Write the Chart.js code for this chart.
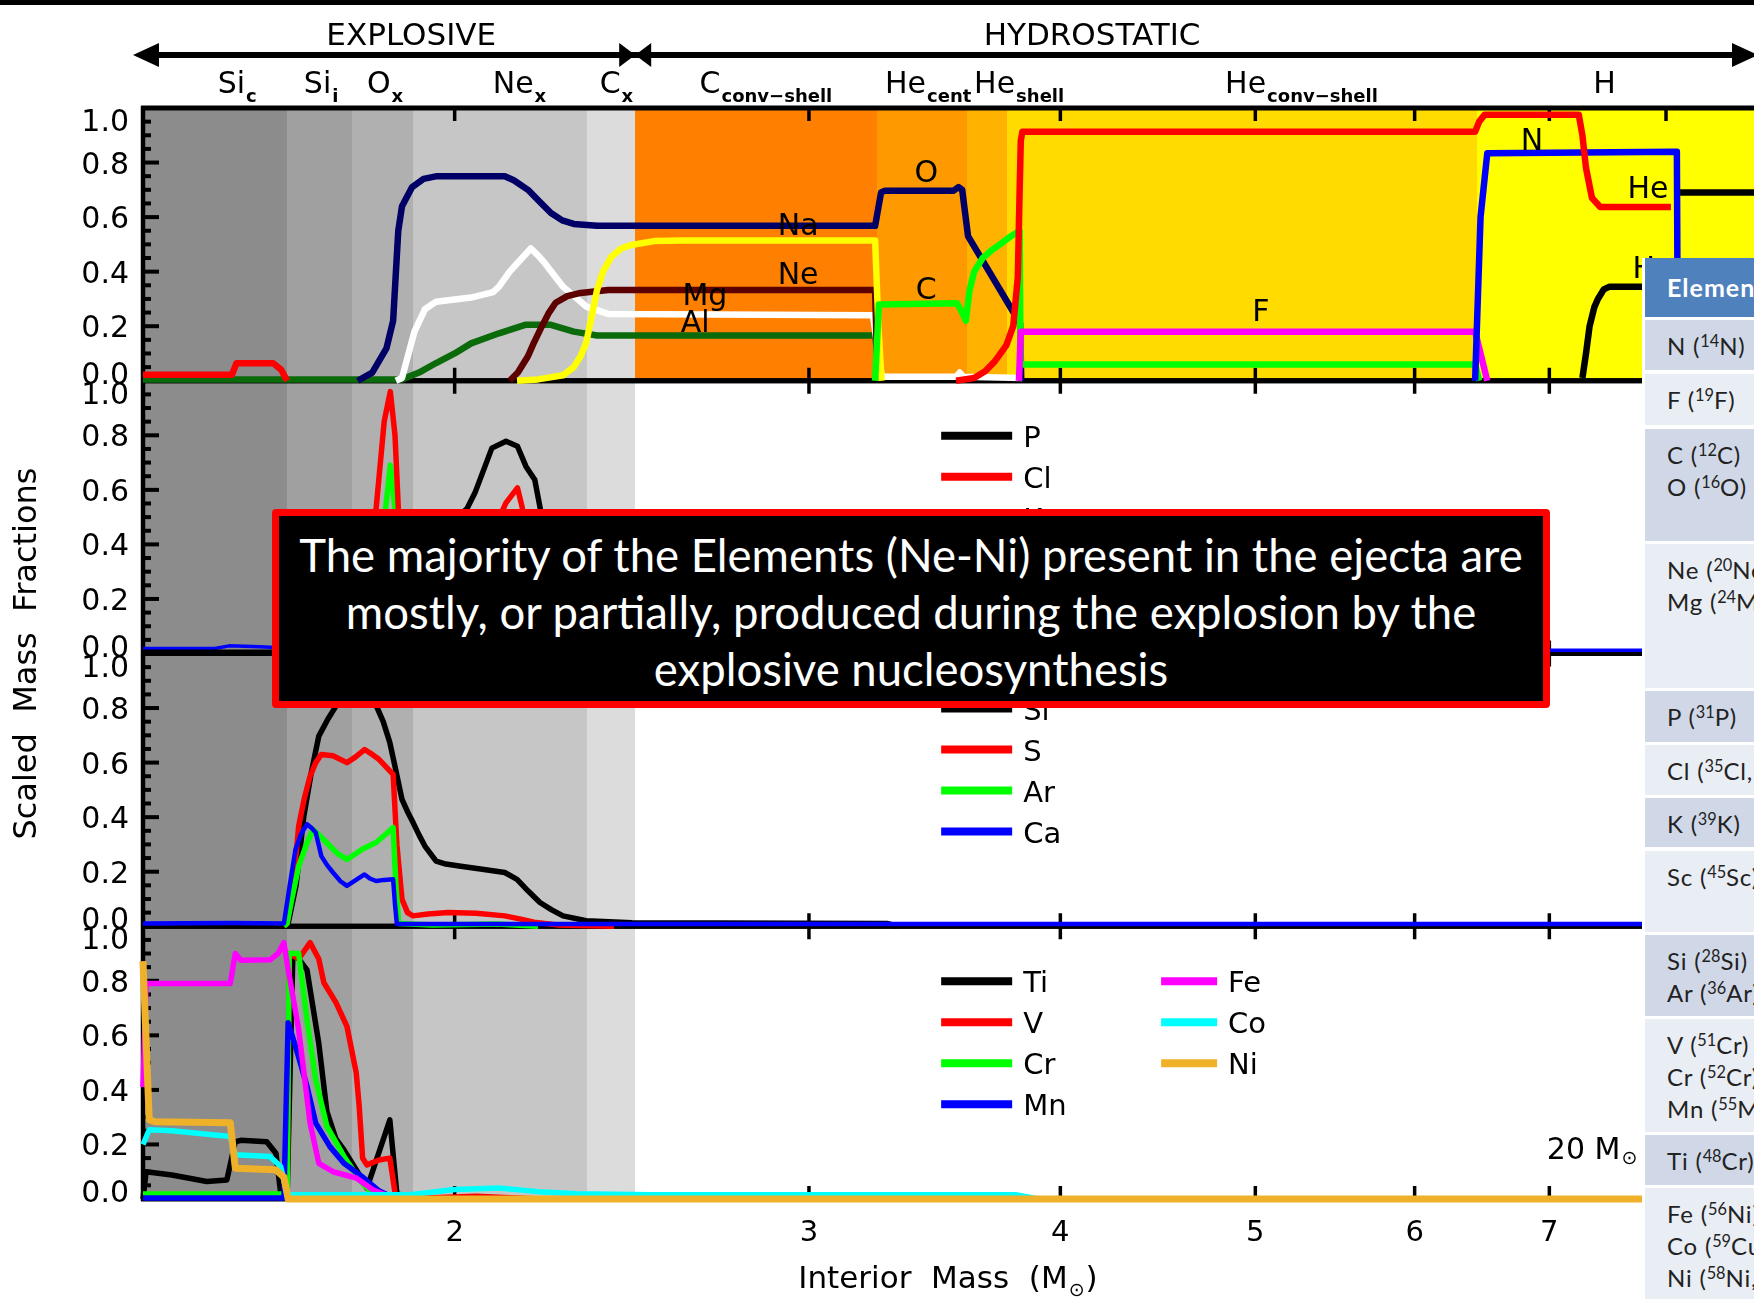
<!DOCTYPE html>
<html>
<head>
<meta charset="utf-8">
<title>Scaled mass fractions, 20 M☉ model</title>
<script src="https://cdn.jsdelivr.net/npm/chart.js@4/dist/chart.umd.min.js"></script>
<style>
  html, body { margin: 0; padding: 0; width: 1754px; height: 1299px; overflow: hidden; background: #fff; }
  #topbar { position: absolute; left: 0; top: 0; width: 1754px; height: 5px; background: #000; z-index: 3; }
  #wrap { position: absolute; left: 0; top: 0; width: 1870px; height: 1299px; }
  #note {
    position: absolute; left: 272px; top: 509px; width: 1278px; height: 199px;
    box-sizing: border-box; border: 7px solid #ff0000; border-radius: 4px;
    background: #000; color: #fff; text-align: center;
    font-family: Lato, 'Open Sans', sans-serif; font-size: 45.5px; line-height: 57px;
    padding-top: 10px; z-index: 2; white-space: nowrap;
  }
  #table { position: absolute; left: 1642px; top: 258px; width: 420px; height: 1041px; z-index: 2;
           background: #fff; font-family: Lato, 'Open Sans', sans-serif; }
  .row { position: absolute; left: 3px; width: 420px; box-sizing: border-box; padding: 10px 0 0 22px;
         font-size: 24px; line-height: 32px; color: #222; letter-spacing: 0.8px; white-space: nowrap; }
  .dark { background: #d0d8e8; }
  .light { background: #e9edf4; }
  .head { background: #4f81bd; color: #fff; font-weight: bold; font-size: 25px; padding-top: 13px; letter-spacing: 1px; }
  sup { font-size: 0.68em; vertical-align: 0.5em; line-height: 0; letter-spacing: 0; }
</style>
</head>
<body>
<div id="topbar"></div>
<div id="wrap"><canvas id="chart" width="1870" height="1299"></canvas></div>
<div id="note">The majority of the Elements (Ne-Ni) present in the ejecta are<br>mostly, or partially, produced during the explosion by the<br>explosive nucleosynthesis</div>
<div id="table">
  <div class="row head" style="top:0;height:59px;">Element</div>
  <div class="row dark" style="top:62px;height:50px;">N (<sup>14</sup>N)</div>
  <div class="row light" style="top:116px;height:51px;">F (<sup>19</sup>F)</div>
  <div class="row dark" style="top:171px;height:112px;">C (<sup>12</sup>C)<br>O (<sup>16</sup>O)</div>
  <div class="row light" style="top:286px;height:144px;">Ne (<sup>20</sup>Ne)<br>Mg (<sup>24</sup>Mg)</div>
  <div class="row dark" style="top:433px;height:51px;">P (<sup>31</sup>P)</div>
  <div class="row light" style="top:487px;height:50px;">Cl (<sup>35</sup>Cl, <sup>37</sup>Cl)</div>
  <div class="row dark" style="top:540px;height:49px;">K (<sup>39</sup>K)</div>
  <div class="row light" style="top:593px;height:81px;">Sc (<sup>45</sup>Sc)</div>
  <div class="row dark" style="top:677px;height:81px;">Si (<sup>28</sup>Si)<br>Ar (<sup>36</sup>Ar)</div>
  <div class="row light" style="top:761px;height:113px;">V (<sup>51</sup>Cr)<br>Cr (<sup>52</sup>Cr)<br>Mn (<sup>55</sup>Mn)</div>
  <div class="row dark" style="top:877px;height:50px;">Ti (<sup>48</sup>Cr)</div>
  <div class="row light" style="top:930px;height:111px;">Fe (<sup>56</sup>Ni)<br>Co (<sup>59</sup>Cu)<br>Ni (<sup>58</sup>Ni, <sup>60</sup>Ni)</div>
</div>

<script>
// ---------- axes ----------
const massMin = 1.4;
const massMax = 10;
const massTicks = [2, 3, 4, 5, 6, 7, 8, 9];
const fracTicks = [0, 0.2, 0.4, 0.6, 0.8, 1.0];

// ---------- burning zones (interior mass boundaries, M☉) ----------
const zoneEdges = [1.4, 1.651, 1.778, 1.907, 2.327, 2.459, 3.243, 3.594, 3.764, 6.446, 10];
const zoneNames = ['Si', 'Si', 'O', 'Ne', 'C', 'C', 'He', 'He', 'He', 'H'];
const zoneSubs = ['c', 'i', 'x', 'x', 'x', 'conv\u2212shell', 'cent', 'shell', 'conv\u2212shell', ''];
const zoneLabelMass = [1.525, 1.683, 1.809, 2.089, 2.361, 2.647, 3.273, 3.624, 4.83, 7.36];
const zoneColorsTop = ['#8c8c8c', '#a0a0a0', '#b0b0b0', '#c6c6c6', '#dcdcdc', '#ff7f00', '#ff9900', '#ffb300', '#ffdb00', '#ffff00'];
const zoneColorsLower = ['#8c8c8c', '#a0a0a0', '#b0b0b0', '#c6c6c6', '#dcdcdc', null, null, null, null, null];
const phaseSplitMass = 2.459;

// ---------- panel 1: light elements (mass, scaled fraction) ----------
const redInner = [[1.40, 0.022], [1.55, 0.022], [1.558, 0.064], [1.625, 0.064], [1.64, 0.04], [1.651, 0]];
const nitrogen = [[3.55, 0], [3.624, 0.01], [3.67, 0.035], [3.71, 0.07], [3.76, 0.13], [3.79, 0.2], [3.81, 0.38],
  [3.818, 0.7], [3.823, 0.88], [3.83, 0.913], [6.43, 0.913], [6.46, 0.95], [6.50, 0.975], [7.24, 0.975],
  [7.27, 0.9], [7.30, 0.78], [7.35, 0.67], [7.42, 0.637], [8.045, 0.637]];
const hydrogen = [[7.27, 0.01], [7.30, 0.1], [7.33, 0.2], [7.37, 0.27], [7.40, 0.3], [7.45, 0.335], [7.50, 0.345], [8.10, 0.345]];
const heliumEnvelope = [[8.13, 0.69], [10, 0.69]];
const heliumShell = [[6.43, 0], [6.47, 0.6], [6.52, 0.834], [8.10, 0.84], [8.11, 0]];
const fluorine = [[3.815, 0], [3.823, 0.18], [6.43, 0.18], [6.52, 0]];
const carbon = [[3.236, 0], [3.25, 0.28], [3.554, 0.284], [3.575, 0.25], [3.59, 0.22], [3.605, 0.33], [3.624, 0.40],
  [3.66, 0.45], [3.70, 0.48], [3.733, 0.50], [3.78, 0.53], [3.818, 0.55], [3.822, 0.06], [6.43, 0.06], [6.46, 0]];
const oxygenSodium = [[1.79, 0], [1.82, 0.03], [1.85, 0.12], [1.864, 0.22], [1.875, 0.55], [1.883, 0.64], [1.905, 0.71],
  [1.93, 0.74], [1.96, 0.75], [2.118, 0.75], [2.14, 0.735], [2.175, 0.70], [2.205, 0.655], [2.233, 0.615],
  [2.262, 0.588], [2.292, 0.575], [2.354, 0.568], [3.236, 0.568], [3.258, 0.69], [3.273, 0.697], [3.54, 0.697],
  [3.56, 0.71], [3.575, 0.70], [3.599, 0.53], [3.82, 0.21], [3.825, 0]];
const neon = [[2.148, 0], [2.20, 0.005], [2.264, 0.02], [2.292, 0.05], [2.31, 0.09], [2.325, 0.14], [2.34, 0.24],
  [2.354, 0.333], [2.37, 0.40], [2.393, 0.455], [2.42, 0.485], [2.448, 0.498], [2.513, 0.512], [2.6, 0.514],
  [3.236, 0.514], [3.248, 0.2], [3.26, 0]];
const magnesium = [[2.13, 0], [2.15, 0.03], [2.175, 0.09], [2.19, 0.14], [2.21, 0.2], [2.228, 0.25], [2.245, 0.286],
  [2.275, 0.31], [2.31, 0.322], [2.384, 0.333], [3.236, 0.333], [3.245, 0]];
const aluminium = [[1.87, 0], [1.883, 0.01], [1.91, 0.18], [1.933, 0.262], [1.958, 0.29], [2.038, 0.305], [2.09, 0.325],
  [2.104, 0.345], [2.13, 0.40], [2.148, 0.43], [2.182, 0.485], [2.20, 0.46], [2.218, 0.43], [2.264, 0.345],
  [2.325, 0.272], [2.384, 0.245], [3.228, 0.24], [3.245, 0.12], [3.261, 0.015], [3.55, 0.015], [3.565, 0.03],
  [3.58, 0.015], [3.83, 0.01]];
const darkGreenLine = [[1.40, 0.005], [1.883, 0.005], [1.92, 0.03], [1.958, 0.065], [2.0, 0.10], [2.038, 0.137],
  [2.104, 0.174], [2.168, 0.205], [2.233, 0.205], [2.292, 0.18], [2.354, 0.166], [3.236, 0.166], [3.255, 0]];

// ---------- panel 2: P, Cl, K, Sc ----------
const phosphorus = [[1.40, 0.005], [1.64, 0.005], [1.68, 0.12], [1.72, 0.25], [1.78, 0.3], [1.85, 0.35], [1.95, 0.42],
  [2.028, 0.53], [2.047, 0.589], [2.087, 0.753], [2.121, 0.778], [2.149, 0.76], [2.17, 0.686], [2.192, 0.637],
  [2.206, 0.53], [2.24, 0.3], [2.3, 0.1], [2.4, 0.02], [3.3, 0.01], [3.35, 0]];
const chlorine = [[1.65, 0], [1.70, 0.1], [1.78, 0.15], [1.82, 0.4], [1.828, 0.53], [1.845, 0.85], [1.858, 0.96],
  [1.868, 0.8], [1.876, 0.5], [1.90, 0.2], [2.0, 0.25], [2.06, 0.35], [2.121, 0.552], [2.149, 0.607], [2.16, 0.54],
  [2.2, 0.25], [2.3, 0.05], [2.45, 0.01], [2.6, 0]];
const potassium = [[1.65, 0], [1.72, 0.08], [1.80, 0.1], [1.83, 0.2], [1.848, 0.53], [1.858, 0.69], [1.868, 0.53],
  [1.88, 0.2], [1.95, 0.1], [2.1, 0.12], [2.2, 0.08], [2.35, 0.01], [2.5, 0]];
const scandium = [[1.40, 0.018], [1.52, 0.018], [1.545, 0.028], [1.60, 0.025], [1.65, 0.02], [1.70, 0.1], [1.8, 0.15],
  [1.9, 0.1], [2.1, 0.1], [2.3, 0.03], [2.5, 0.012], [10, 0.012]];

// ---------- panel 3: Si, S, Ar, Ca ----------
const silicon = [[1.40, 0.005], [1.645, 0.005], [1.653, 0.01], [1.668, 0.15], [1.683, 0.404], [1.697, 0.56],
  [1.712, 0.697], [1.73, 0.76], [1.746, 0.807], [1.77, 0.92], [1.79, 0.97], [1.81, 0.92], [1.828, 0.81],
  [1.843, 0.75], [1.857, 0.673], [1.87, 0.57], [1.883, 0.465], [1.895, 0.42], [1.907, 0.38], [1.92, 0.335],
  [1.933, 0.294], [1.958, 0.239], [1.98, 0.228], [2.01, 0.221], [2.06, 0.21], [2.118, 0.197], [2.148, 0.172],
  [2.175, 0.13], [2.205, 0.087], [2.235, 0.06], [2.264, 0.038], [2.325, 0.02], [2.45, 0.013], [3.28, 0.01], [3.32, 0]];
const sulfur = [[1.645, 0], [1.651, 0.01], [1.665, 0.2], [1.673, 0.367], [1.684, 0.47], [1.695, 0.55], [1.706, 0.60],
  [1.717, 0.63], [1.74, 0.625], [1.768, 0.60], [1.785, 0.62], [1.804, 0.648], [1.82, 0.63], [1.834, 0.612],
  [1.864, 0.557], [1.872, 0.3], [1.883, 0.099], [1.895, 0.05], [1.907, 0.038], [1.94, 0.045], [1.985, 0.05],
  [2.05, 0.048], [2.118, 0.038], [2.16, 0.025], [2.19, 0.015], [2.25, 0.005], [2.4, 0]];
const argon = [[1.645, 0], [1.651, 0.01], [1.66, 0.1], [1.673, 0.22], [1.688, 0.3], [1.701, 0.355], [1.715, 0.33],
  [1.734, 0.294], [1.75, 0.265], [1.768, 0.245], [1.785, 0.265], [1.799, 0.282], [1.828, 0.307], [1.85, 0.34],
  [1.864, 0.362], [1.87, 0.15], [1.876, 0.01], [1.95, 0.005], [2.1, 0.008], [2.2, 0]];
const calcium = [[1.40, 0.01], [1.55, 0.012], [1.645, 0.01], [1.656, 0.15], [1.667, 0.282], [1.678, 0.34],
  [1.689, 0.374], [1.698, 0.36], [1.706, 0.344], [1.717, 0.257], [1.728, 0.225], [1.74, 0.197], [1.755, 0.165],
  [1.768, 0.148], [1.785, 0.168], [1.804, 0.19], [1.815, 0.175], [1.828, 0.166], [1.845, 0.17], [1.864, 0.172],
  [1.868, 0.08], [1.872, 0.008], [10, 0.008]];

// ---------- panel 4: Ti, V, Cr, Mn, Fe, Co, Ni ----------
const titanium = [[1.40, 0.0], [1.405, 0.10], [1.447, 0.088], [1.506, 0.064], [1.541, 0.07], [1.556, 0.21],
  [1.566, 0.215], [1.613, 0.21], [1.63, 0.168], [1.639, 0.02], [1.651, 0.005], [1.662, 0.90], [1.673, 0.88],
  [1.689, 0.84], [1.712, 0.57], [1.728, 0.32], [1.746, 0.22], [1.762, 0.18], [1.793, 0.09], [1.809, 0.04],
  [1.828, 0.14], [1.857, 0.29], [1.872, 0.02], [1.9, 0.005]];
const vanadium = [[1.651, 0], [1.655, 0.90], [1.673, 0.88], [1.695, 0.94], [1.712, 0.88], [1.722, 0.793],
  [1.746, 0.72], [1.768, 0.633], [1.787, 0.462], [1.793, 0.34], [1.80, 0.15], [1.809, 0.125], [1.834, 0.143],
  [1.857, 0.15], [1.87, 0.0], [1.95, 0.005], [2.05, 0.01], [2.2, 0]];
const chromium = [[1.40, 0.018], [1.645, 0.018], [1.651, 0.02], [1.655, 0.90], [1.673, 0.90], [1.689, 0.658],
  [1.706, 0.437], [1.728, 0.266], [1.762, 0.156], [1.799, 0.058], [1.822, 0.02], [1.85, 0]];
const manganese = [[1.40, 0.004], [1.645, 0.004], [1.653, 0.646], [1.667, 0.56], [1.689, 0.413], [1.706, 0.278],
  [1.734, 0.192], [1.762, 0.131], [1.799, 0.082], [1.834, 0.03], [1.87, 0]];
const iron = [[1.40, 0.41], [1.405, 0.79], [1.547, 0.79], [1.556, 0.90], [1.566, 0.875], [1.619, 0.877],
  [1.634, 0.90], [1.645, 0.94], [1.653, 0.842], [1.673, 0.621], [1.695, 0.278], [1.712, 0.131], [1.74, 0.10],
  [1.787, 0.077], [1.822, 0.033], [1.857, 0.01], [1.9, 0]];
const cobalt = [[1.40, 0.20], [1.41, 0.254], [1.447, 0.25], [1.547, 0.229], [1.556, 0.162], [1.619, 0.156],
  [1.639, 0.119], [1.651, 0.016], [1.9, 0.016], [1.933, 0.022], [2.0, 0.035], [2.104, 0.04], [2.2, 0.027],
  [2.3, 0.019], [2.5, 0.016], [3.8, 0.016], [3.9, 0.0]];
const nickel = [[1.40, 0.872], [1.41, 0.29], [1.42, 0.283], [1.547, 0.28], [1.556, 0.113], [1.63, 0.107],
  [1.645, 0.08], [1.653, 0.0], [10, 0.0]];

// ---------- text placed on panel 1 (mass, scaled fraction) ----------
const curveLabels = ['Na', 'Ne', 'Mg', 'Al', 'O', 'C', 'F', 'N', 'He', 'H'];
const curveLabelMass = [2.963, 2.963, 2.663, 2.634, 3.431, 3.431, 5.032, 6.862, 7.837, 7.80];
const curveLabelFrac = [0.575, 0.395, 0.317, 0.22, 0.77, 0.34, 0.26, 0.886, 0.71, 0.417];

const RED = '#ff0000', GREEN = '#00ff00', BLUE = '#0000ff', BLACK = '#000000';
const MAGENTA = '#ff00ff', CYAN = '#00ffff', NI_ORANGE = '#efb02a';

const pts = arr => arr.map(([x, y]) => ({ x, y }));
function series(label, values, color, panel, width) {
  return {
    label, data: pts(values), borderColor: color, backgroundColor: color,
    borderWidth: width, pointRadius: 0, pointHoverRadius: 0, fill: false, tension: 0,
    borderJoinStyle: 'round', yAxisID: panel, clip: 8
  };
}

const datasets = [
  // panel 1
  series('N', nitrogen, RED, 'p1', 6.5),
  series('N (inner)', redInner, RED, 'p1', 6.5),
  series('H', hydrogen, BLACK, 'p1', 6.5),
  series('He', heliumEnvelope, BLACK, 'p1', 6.5),
  series('He (shell)', heliumShell, BLUE, 'p1', 6.5),
  series('F', fluorine, MAGENTA, 'p1', 6.5),
  series('C', carbon, GREEN, 'p1', 6.5),
  series('O / Na', oxygenSodium, '#000066', 'p1', 6.5),
  series('Ne', neon, '#ffff00', 'p1', 6.5),
  series('Mg', magnesium, '#5c0000', 'p1', 6.5),
  series('Al', aluminium, '#ffffff', 'p1', 6.5),
  series('Si (hydrostatic)', darkGreenLine, '#0b6b0b', 'p1', 6.5),
  // panel 2
  series('Cl', chlorine, RED, 'p2', 5.5),
  series('K', potassium, GREEN, 'p2', 5.5),
  series('P', phosphorus, BLACK, 'p2', 5.5),
  series('Sc', scandium, BLUE, 'p2', 3.5),
  // panel 3
  series('Ca', calcium, BLUE, 'p3', 4.5),
  series('Ar', argon, GREEN, 'p3', 5.5),
  series('S', sulfur, RED, 'p3', 5.5),
  series('Si', silicon, BLACK, 'p3', 5.5),
  // panel 4
  series('Ni', nickel, NI_ORANGE, 'p4', 7),
  series('Co', cobalt, CYAN, 'p4', 5.5),
  series('Fe', iron, MAGENTA, 'p4', 5.5),
  series('Mn', manganese, BLUE, 'p4', 5.5),
  series('Cr', chromium, GREEN, 'p4', 5.5),
  series('V', vanadium, RED, 'p4', 5.5),
  series('Ti', titanium, BLACK, 'p4', 5.5)
];

// legend columns per panel (labels refer to the datasets above)
const legendColumns = {
  p2: [['P', 'Cl', 'K', 'Sc']],
  p3: [['Si', 'S', 'Ar', 'Ca']],
  p4: [['Ti', 'V', 'Cr', 'Mn'], ['Fe', 'Co', 'Ni']]
};
const legendMass = [3.49, 4.489];
const legendLineLen = [71, 56];

const panelIds = ['p1', 'p2', 'p3', 'p4'];
const FONT = "'DejaVu Sans', 'Liberation Sans', sans-serif";

function subText(ctx, main, sub, x, y, mainFont, subFont, drop) {
  ctx.textAlign = 'left';
  ctx.font = mainFont;
  const w1 = ctx.measureText(main).width;
  ctx.fillText(main, x, y);
  ctx.font = subFont;
  ctx.fillText(sub, x + w1 + 1, y + drop);
}

const framePlugin = {
  id: 'panelFrame',
  beforeDatasetsDraw(chart) {
    const { ctx, chartArea: a, scales } = chart;
    const xs = scales.x;
    const px = m => Math.round(xs.getPixelForValue(m));
    ctx.save();
    // zone shading
    panelIds.forEach((id, k) => {
      const s = scales[id];
      const top = s.getPixelForValue(1), bot = s.getPixelForValue(0);
      const cols = k === 0 ? zoneColorsTop : zoneColorsLower;
      cols.forEach((c, i) => {
        if (!c) return;
        const x0 = Math.max(a.left, px(zoneEdges[i]));
        const x1 = Math.min(a.right, px(zoneEdges[i + 1]));
        ctx.fillStyle = c;
        ctx.fillRect(x0, top, x1 - x0, bot - top);
      });
    });
    // panel frames
    ctx.strokeStyle = '#000';
    ctx.lineWidth = 5;
    panelIds.forEach(id => {
      const s = scales[id];
      [1, 0].forEach(v => {
        const y = s.getPixelForValue(v);
        ctx.beginPath(); ctx.moveTo(a.left - 2, y); ctx.lineTo(a.right, y); ctx.stroke();
      });
    });
    ctx.lineWidth = 4.5;
    ctx.beginPath(); ctx.moveTo(a.left, a.top - 2); ctx.lineTo(a.left, a.bottom + 2); ctx.stroke();
    // y ticks (major 0.2, minor 0.05), drawn inward
    panelIds.forEach(id => {
      const s = scales[id];
      for (let i = 0; i <= 20; i++) {
        const y = s.getPixelForValue(i / 20);
        const major = i % 4 === 0;
        ctx.lineWidth = 4;
        ctx.beginPath(); ctx.moveTo(a.left, y); ctx.lineTo(a.left + (major ? 16 : 8), y); ctx.stroke();
      }
    });
    // x ticks at top and bottom of every panel
    ctx.lineWidth = 3.5;
    panelIds.forEach(id => {
      const s = scales[id];
      const top = s.getPixelForValue(1), bot = s.getPixelForValue(0);
      massTicks.forEach(m => {
        const x = xs.getPixelForValue(m);
        ctx.beginPath(); ctx.moveTo(x, top); ctx.lineTo(x, top + 13); ctx.stroke();
        ctx.beginPath(); ctx.moveTo(x, bot); ctx.lineTo(x, bot - 13); ctx.stroke();
      });
    });
    ctx.restore();
  },
  afterDatasetsDraw(chart) {
    const { ctx, chartArea: a, scales } = chart;
    const xs = scales.x;
    const px = m => xs.getPixelForValue(m);
    ctx.save();
    ctx.fillStyle = '#000';
    ctx.strokeStyle = '#000';
    ctx.textBaseline = 'alphabetic';

    // y tick labels
    ctx.font = '30px ' + FONT;
    ctx.textAlign = 'right';
    panelIds.forEach(id => {
      const s = scales[id];
      fracTicks.forEach(v => {
        let y = s.getPixelForValue(v) + 11;
        if (v === 1) y += 12;
        if (v === 0) y -= 8;
        ctx.fillText(v.toFixed(1), a.left - 14, y);
      });
    });

    // x tick labels
    ctx.font = '29px ' + FONT;
    ctx.textAlign = 'center';
    massTicks.forEach(m => ctx.fillText(String(m), px(m), a.bottom + 42));

    // x title
    {
      const mainF = '31px ' + FONT, subF = '19px ' + FONT;
      ctx.font = mainF;
      const t1 = 'Interior  Mass  (M', t2 = '\u2299', t3 = ')';
      const w1 = ctx.measureText(t1).width, w3 = ctx.measureText(t3).width;
      ctx.font = subF;
      const w2 = ctx.measureText(t2).width;
      const x0 = 948 - (w1 + w2 + w3 + 2) / 2;
      ctx.textAlign = 'left';
      ctx.font = mainF; ctx.fillText(t1, x0, a.bottom + 89);
      ctx.font = subF; ctx.fillText(t2, x0 + w1 + 1, a.bottom + 97);
      ctx.font = mainF; ctx.fillText(t3, x0 + w1 + w2 + 2, a.bottom + 89);
    }

    // y title
    ctx.save();
    ctx.translate(36, (a.top + a.bottom) / 2);
    ctx.rotate(-Math.PI / 2);
    ctx.textAlign = 'center';
    ctx.font = '32px ' + FONT;
    ctx.fillText('Scaled  Mass  Fractions', 0, 0);
    ctx.restore();

    // phase header with arrows
    {
      const y = 55;
      const xl = a.left - 10, xm = px(phaseSplitMass), xr = 1758;
      ctx.lineWidth = 6;
      ctx.beginPath(); ctx.moveTo(xl + 20, y); ctx.lineTo(xr - 20, y); ctx.stroke();
      const head = (tip, dir, len) => {
        ctx.beginPath();
        ctx.moveTo(tip, y);
        ctx.lineTo(tip - dir * len, y - 12);
        ctx.lineTo(tip - dir * len, y + 12);
        ctx.closePath(); ctx.fill();
      };
      head(xl, -1, 26);
      head(xm, 1, 16);
      head(xm, -1, 16);
      head(xr, 1, 26);
      ctx.font = '31px ' + FONT;
      ctx.textAlign = 'center';
      ctx.fillText('EXPLOSIVE', px(1.903), 45);
      ctx.fillText('HYDROSTATIC', px(4.148), 45);
    }

    // zone labels
    zoneNames.forEach((name, i) => {
      subText(ctx, name, zoneSubs[i], px(zoneLabelMass[i]), 93, '30px ' + FONT, 'bold 18px ' + FONT, 9);
    });

    // curve labels in panel 1
    ctx.font = '30px ' + FONT;
    ctx.textAlign = 'center';
    const s1 = scales.p1;
    curveLabels.forEach((t, i) => {
      ctx.fillText(t, px(curveLabelMass[i]), s1.getPixelForValue(curveLabelFrac[i]) + 11);
    });

    // legends
    const byLabel = {};
    chart.data.datasets.forEach(d => { byLabel[d.label] = d; });
    Object.keys(legendColumns).forEach(id => {
      const top = scales[id].getPixelForValue(1);
      legendColumns[id].forEach((col, c) => {
        const x0 = px(legendMass[c]);
        col.forEach((lab, r) => {
          const y = top + 55 + r * 41;
          ctx.fillStyle = byLabel[lab].borderColor;
          ctx.fillRect(x0, y - 4, legendLineLen[c], 8);
          ctx.fillStyle = '#000';
          ctx.font = '29px ' + FONT;
          ctx.textAlign = 'left';
          ctx.fillText(lab, x0 + legendLineLen[c] + 11, y + 11);
        });
      });
    });

    // model mass label
    subText(ctx, '20 M', '\u2299', px(6.98), scales.p4.getPixelForValue(0.183) + 10, '30px ' + FONT, '19px ' + FONT, 5);
    ctx.restore();
  }
};

new Chart(document.getElementById('chart'), {
  type: 'line',
  data: { datasets },
  options: {
    responsive: false,
    devicePixelRatio: 1,
    animation: false,
    events: [],
    layout: { padding: { left: 143, top: 108, right: 9, bottom: 100 } },
    plugins: { legend: { display: false }, tooltip: { enabled: false } },
    scales: {
      x: { type: 'logarithmic', min: massMin, max: massMax, display: false },
      p1: { type: 'linear', min: -3, max: 1, display: false },
      p2: { type: 'linear', min: -2, max: 2, display: false },
      p3: { type: 'linear', min: -1, max: 3, display: false },
      p4: { type: 'linear', min: 0, max: 4, display: false }
    }
  },
  plugins: [framePlugin]
});
</script>
</body>
</html>
